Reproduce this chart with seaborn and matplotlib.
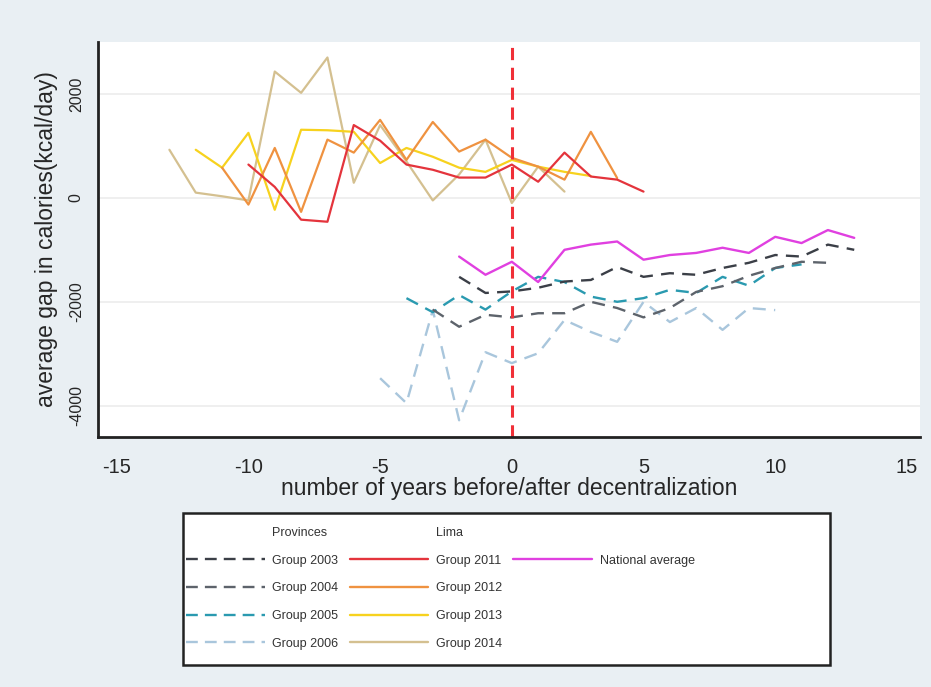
import numpy as np
import pandas as pd
import seaborn as sns
import matplotlib.pyplot as plt
from matplotlib.lines import Line2D
from matplotlib.patches import Rectangle

sns.set_style("white")
plt.rcParams['font.family'] = ['Liberation Sans', 'DejaVu Sans']
plt.rcParams['axes.unicode_minus'] = False

# data (years relative to decentralization, kcal/day gap)
t_2003 = list(range(-2, 14))
g_2003 = [-1520, -1830, -1800, -1730, -1610, -1580, -1330, -1520, -1450, -1480, -1350, -1250, -1100, -1130, -900, -1000]
t_2004 = list(range(-3, 13))
g_2004 = [-2150, -2480, -2250, -2300, -2220, -2220, -2000, -2120, -2300, -2120, -1810, -1700, -1500, -1350, -1230, -1250]
t_2005 = list(range(-4, 12))
g_2005 = [-1930, -2200, -1870, -2150, -1800, -1520, -1620, -1900, -2000, -1930, -1770, -1830, -1520, -1690, -1350, -1280]
t_2006 = list(range(-5, 11))
g_2006 = [-3470, -3950, -2160, -4280, -2970, -3180, -2990, -2350, -2580, -2770, -2000, -2390, -2120, -2540, -2120, -2160]

t_2011 = list(range(-10, 6))
g_2011 = [640, 210, -420, -460, 1400, 1100, 640, 540, 390, 390, 640, 310, 870, 410, 350, 120]
t_2012 = list(range(-11, 5))
g_2012 = [580, -130, 960, -270, 1120, 870, 1500, 730, 1460, 890, 1120, 770, 600, 350, 1270, 380]
t_2013 = list(range(-12, 4))
g_2013 = [925, 580, 1250, -230, 1310, 1300, 1270, 670, 960, 790, 580, 500, 730, 600, 500, 420]
t_2014 = list(range(-13, 3))
g_2014 = [925, 100, 30, -50, 2430, 2020, 2700, 290, 1400, 700, -50, 450, 1120, -100, 600, 120]

t_nat = list(range(-2, 14))
g_nat = [-1130, -1480, -1230, -1620, -1000, -900, -840, -1190, -1100, -1060, -960, -1060, -750, -870, -620, -770]

provinces = [("Group 2003", t_2003, g_2003, "#3b3f47"),
             ("Group 2004", t_2004, g_2004, "#5d636b"),
             ("Group 2005", t_2005, g_2005, "#2a9ab0"),
             ("Group 2006", t_2006, g_2006, "#a9c6dc")]
lima = [("Group 2011", t_2011, g_2011, "#e4343c"),
        ("Group 2012", t_2012, g_2012, "#ef9240"),
        ("Group 2013", t_2013, g_2013, "#f7d21e"),
        ("Group 2014", t_2014, g_2014, "#d4c090")]

bg = "#e9eff3"
fig = plt.figure(figsize=(9.31, 6.87), dpi=100, facecolor=bg)
ax = fig.add_axes([0.105, 0.364, 0.883, 0.575])
ax.set_facecolor("white")

# draw back-to-front: light ones first
for name, t, g, c in provinces[::-1]:
    df = pd.DataFrame({"t": t, "gap": g})
    sns.lineplot(data=df, x="t", y="gap", color=c, linestyle=(0, (5.5, 3.5)), lw=1.7, ax=ax)
for name, t, g, c in lima[::-1]:
    df = pd.DataFrame({"t": t, "gap": g})
    sns.lineplot(data=df, x="t", y="gap", color=c, lw=1.6, ax=ax)
sns.lineplot(x=t_nat, y=g_nat, color="#e040e0", lw=1.7, ax=ax)

ax.axvline(0, color="#f03038", lw=2.2, linestyle=(0, (4, 2.5)))

ax.set_xlim(-15.72, 15.49)
ax.set_ylim(-4600, 3000)
ax.set_xticks([-15, -10, -5, 0, 5, 10, 15])
ax.set_yticks([-4000, -2000, 0, 2000])
ax.set_yticklabels(["-4000", "-2000", "0", "2000"], rotation=90, va="center")
ax.grid(axis="y", color="#ececec", lw=1.2)
ax.set_axisbelow(True)
for s in ["top", "right"]:
    ax.spines[s].set_visible(False)
for s in ["left", "bottom"]:
    ax.spines[s].set_color("#222222")
    ax.spines[s].set_linewidth(2)
ax.tick_params(axis="x", direction="out", length=7, width=1.5, labelsize=14.5, pad=8, color="#222222")
ax.tick_params(axis="y", direction="out", length=7, width=1.5, labelsize=11.5, pad=3, color="#222222")
ax.set_xlabel("number of years before/after decentralization", fontsize=16.5, labelpad=0)
ax.set_ylabel("average gap in calories(kcal/day)", fontsize=16.5, labelpad=8)

# legend box
W, H = 931, 687
fig.patches.append(Rectangle((183 / W, 1 - 665 / H), (830 - 183) / W, (665 - 513) / H,
                             transform=fig.transFigure, facecolor="white",
                             edgecolor="#222222", lw=1.8, zorder=0))
blank = Line2D([], [], linestyle="none")
handles = [blank] + [Line2D([], [], color=c, lw=1.7, linestyle=(0, (5, 3))) for _, _, _, c in provinces]
labels = ["Provinces"] + [n for n, _, _, _ in provinces]
handles += [blank] + [Line2D([], [], color=c, lw=1.7) for _, _, _, c in lima]
labels += ["Lima"] + [n for n, _, _, _ in lima]
handles += [blank, Line2D([], [], color="#e040e0", lw=1.7), blank, blank, blank]
labels += ["", "National average", "", "", ""]
fig.legend(handles, labels, ncol=3, loc="upper left", bbox_to_anchor=(186 / W, 1 - 527 / H),
           frameon=False, fontsize=9, handlelength=6.3, handletextpad=0.6,
           columnspacing=0.9, labelspacing=1.25, borderaxespad=0, borderpad=0,
           labelcolor="#333333")

fig.savefig("out.png", dpi=100, facecolor=bg)
